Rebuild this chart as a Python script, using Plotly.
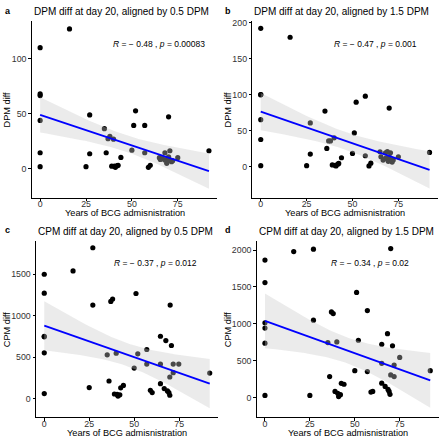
import numpy as np
import plotly.graph_objects as go

# ---------------- data ----------------
years_a = [0, 0, 0, 0, 0, 0, 16, 25, 27, 27, 35, 36, 37, 38, 40,
           39, 40.5, 41, 42, 42.5, 44, 50, 51, 52, 57, 57, 59, 60, 70, 92,
           65, 65.5, 66.7, 68, 68, 69, 69.5, 70, 70.7, 70.7, 71.6, 72.2, 75]
dpm_a = [110, 68, 66.5, 44, 14.7, 2.1, 127, 2.1, 49, 13.8, 36.5, 14.7, 27.5, 29.6, 27,
         2.5, 2.5, 1.5, 3, 3.3, 10.5, 17, 39.5, 52.7, 39.5, 14.7, 1.5, 3.3, 47.3, 16.5,
         10.2, 8.7, 9.3, 14.7, 8.1, 5.1, 9.6, 11.1, 16.5, 8.1, 6.6, 7.5, 10.2]

years_b = years_a
dpm_b = [192, 100, 100, 65.3, 37.7, 1.4, 179.7, 1.4, 60.7, 17.5, 77.2, 25.3, 35.8, 35.8, 40,
         2.5, 2, 1, 3.5, 4.5, 12.4, 18.4, 46.9, 89.6, 97.9, 15.2, 1, 4.8, 81.3, 19.8,
         20.7, 13.8, 9.2, 19.3, 11.5, 21.1, 7.4, 13.8, 9.2, 19.3, 6.4, 9.2, 13.8]

years_c = [0, 0, 0, 0, 0, 0, 16, 25, 27, 27, 35, 36, 37, 38, 40,
           39, 40.5, 41, 42, 42.5, 44, 50, 51, 52, 57, 57, 59, 60, 70, 92,
           64.6, 67.6, 70.7, 64.6, 71.7, 74.8, 71.7, 69.8, 64.6, 66.7, 68.5, 69.3, 69.8]
cpm_c = [1500, 1272, 752, 745, 552, 60, 1540, 132, 1820, 1128, 528, 212, 1172, 1200, 548,
         55, 50, 30, 45, 130, 158, 368, 1268, 540, 592, 416, 100, 72, 1128, 308,
         752, 700, 640, 416, 416, 416, 312, 260, 180, 120, 92, 72, 40]

years_d = [0, 0, 0, 0, 0, 0, 16, 25, 27, 27, 35, 36, 37, 38, 40,
           39, 40.5, 41, 42, 42.5, 44, 50, 51, 52, 57, 57, 59, 60, 70, 92,
           65, 68.2, 71, 65, 75, 71.9, 70, 71.9, 65, 66.9, 68.5, 69.1, 69.6]
cpm_d = [1864, 1560, 1015, 943, 738, 31, 1980, 31, 2012, 1050, 746, 286, 1162, 1140, 755,
         85, 60, 15, 40, 195, 182, 366, 1426, 778, 1180, 353, 76, 85, 2020, 366,
         724, 867, 702, 465, 545, 442, 308, 286, 197, 152, 112, 85, 45]

titles = ["DPM diff at day 20, aligned by 0.5 DPM",
          "DPM diff at day 20, aligned by 1.5 DPM",
          "CPM diff at day 20, aligned by 0.5 DPM",
          "CPM diff at day 20, aligned by 1.5 DPM"]
letters = ["a", "b", "c", "d"]
ylabels = ["DPM diff", "DPM diff", "CPM diff", "CPM diff"]
xlabel = "Years of BCG admisnistration"
stats = ["<i>R</i> = \u2212 0.48 , <i>p</i> = 0.00083",
         "<i>R</i> = \u2212 0.47 , <i>p</i> = 0.001",
         "<i>R</i> = \u2212 0.37 , <i>p</i> = 0.012",
         "<i>R</i> = \u2212 0.34 , <i>p</i> = 0.02"]
yticks = [[0, 50, 100], [0, 50, 100, 150, 200],
          [0, 500, 1000, 1500], [0, 500, 1000, 1500, 2000]]

panels = [(years_a, dpm_a), (years_b, dpm_b), (years_c, cpm_c), (years_d, cpm_d)]

# ---------------- layout geometry ----------------
W, H = 440, 438
px_dom = [(31.7, 217.4), (252.3, 438.0), (36.0, 218.0), (256.7, 438.5)]
py_dom = [(18.3, 196.0), (18.3, 196.0), (239.5, 417.3), (239.5, 417.3)]
yranges = [[-26, 134], [-43, 202], [-228, 1903], [-268, 2125]]
xrange_ = [-4.6, 96.6]
stat_pos = [(0.427, 0.872), (0.427, 0.872), (0.416, 0.877), (0.40, 0.877)]
ytitle_x = [7, 228, 7, 228]

TCRIT = 2.02  # t quantile (0.975, df ~ 41)

fig = go.Figure()
annotations = []
for i, (xv, yv) in enumerate(panels):
    x = np.array(xv, float)
    y = np.array(yv, float)
    n = len(x)
    b1, b0 = np.polyfit(x, y, 1)
    xs = np.linspace(x.min(), x.max(), 80)
    yh = b0 + b1 * xs
    resid = y - (b0 + b1 * x)
    s = np.sqrt(np.sum(resid ** 2) / (n - 2))
    sxx = np.sum((x - x.mean()) ** 2)
    se = s * np.sqrt(1.0 / n + (xs - x.mean()) ** 2 / sxx)
    up, lo = yh + TCRIT * se, yh - TCRIT * se

    xa = "x" if i == 0 else f"x{i+1}"
    ya = "y" if i == 0 else f"y{i+1}"

    fig.add_trace(go.Scatter(x=x, y=y, mode="markers", xaxis=xa, yaxis=ya,
                             marker=dict(color="black", size=5.2), showlegend=False,
                             hoverinfo="skip"))
    fig.add_trace(go.Scatter(x=np.concatenate([xs, xs[::-1]]),
                             y=np.concatenate([up, lo[::-1]]),
                             fill="toself", fillcolor="rgba(200,200,200,0.36)",
                             line=dict(width=0), mode="lines", xaxis=xa, yaxis=ya,
                             showlegend=False, hoverinfo="skip"))
    fig.add_trace(go.Scatter(x=xs, y=yh, mode="lines", xaxis=xa, yaxis=ya,
                             line=dict(color="#0000FF", width=1.8), showlegend=False,
                             hoverinfo="skip"))

    x0, x1 = px_dom[i]
    yt, yb = py_dom[i]
    axis_common = dict(showline=True, linecolor="black", linewidth=1, ticks="outside",
                       ticklen=2.5, tickcolor="black", showgrid=False, zeroline=False,
                       tickfont=dict(size=8.8, color="#333333"))
    fig.update_layout(**{
        ("xaxis" if i == 0 else f"xaxis{i+1}"): dict(
            domain=[x0 / W, x1 / W], range=xrange_, tickvals=[0, 25, 50, 75],
            anchor=ya, ticklabelstandoff=-5, **axis_common),
        ("yaxis" if i == 0 else f"yaxis{i+1}"): dict(
            domain=[1 - yb / H, 1 - yt / H], range=yranges[i], tickvals=yticks[i],
            anchor=xa, **axis_common),
    })

    # title
    annotations.append(dict(text=titles[i], xref="paper", yref="paper",
                            x=x0 / W, y=1 - (yt - 9.5) / H, xanchor="left", yanchor="middle",
                            showarrow=False, font=dict(size=10, color="black")))
    # letter
    lx = 3 if i % 2 == 0 else 223
    annotations.append(dict(text=f"<b>{letters[i]}</b>", xref="paper", yref="paper",
                            x=lx / W, y=1 - (yt - 10.5) / H, xanchor="left", yanchor="middle",
                            showarrow=False, font=dict(size=9, color="black")))
    # stats
    annotations.append(dict(text=stats[i], xref=f"{xa} domain", yref=f"{ya} domain",
                            x=stat_pos[i][0], y=stat_pos[i][1], xanchor="left",
                            yanchor="middle", showarrow=False,
                            font=dict(size=8.5, color="black")))
    # x-axis title
    annotations.append(dict(text=xlabel, xref="paper", yref="paper",
                            x=(x0 + x1) / 2 / W, y=1 - (yb + 15.5) / H,
                            xanchor="center", yanchor="middle", showarrow=False,
                            font=dict(size=9.2, color="black")))
    # y-axis title
    annotations.append(dict(text=ylabels[i], xref="paper", yref="paper",
                            x=ytitle_x[i] / W, y=1 - (yt + yb) / 2 / H, textangle=-90,
                            xanchor="center", yanchor="middle", showarrow=False,
                            font=dict(size=9.2, color="black")))

fig.update_layout(width=W, height=H, margin=dict(l=0, r=0, t=0, b=0),
                  plot_bgcolor="white", paper_bgcolor="white",
                  font=dict(family="Liberation Sans, Arial, sans-serif"),
                  annotations=annotations)

fig.write_html("out.html", config={"displayModeBar": False},
               post_script="document.body.style.margin='0';")
